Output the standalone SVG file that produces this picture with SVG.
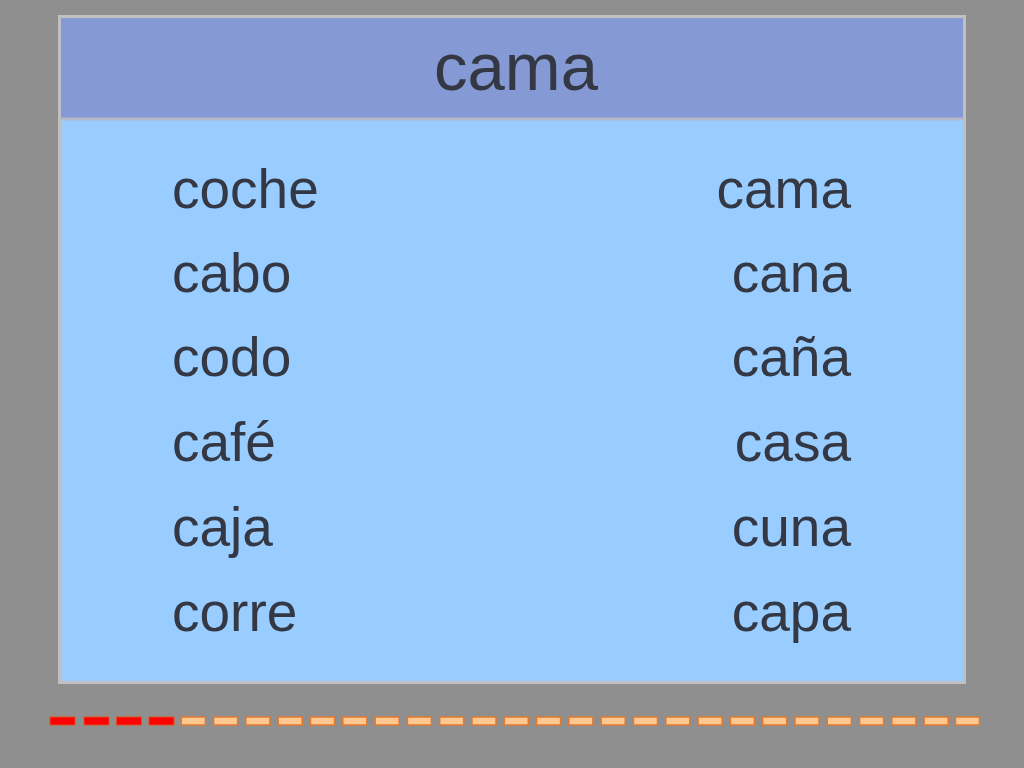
<svg xmlns="http://www.w3.org/2000/svg" width="1024" height="768" viewBox="0 0 1024 768">
<style>
text{font-family:"Liberation Sans",Arial,sans-serif;fill:#333844}
.w{font-size:55px}
.r{text-anchor:end}
.red{fill:#ff0000;stroke:#e05020;stroke-width:1}
.pe{fill:#ffc890;stroke:#e07a30;stroke-width:1.5}
</style>
<rect width="1024" height="768" fill="#8f8f8f"/>
<g id="panel">
<rect x="59.5" y="16.5" width="905" height="666" fill="#99ccff" stroke="#c0c0c0" stroke-width="3"/>
<rect x="61" y="18" width="902" height="100" fill="#8599d4"/>
<line x1="61" y1="119" x2="963" y2="119" stroke="#b8b8c8" stroke-width="3"/>
<text x="516" y="90" font-size="67" text-anchor="middle">cama</text>
</g>
<g id="words">
<text class="w" x="172" y="208">coche</text>
<text class="w" x="172" y="292">cabo</text>
<text class="w" x="172" y="376">codo</text>
<text class="w" x="172" y="461">café</text>
<text class="w" x="172" y="546">caja</text>
<text class="w" x="172" y="631">corre</text>
<text class="w r" x="851" y="208">cama</text>
<text class="w r" x="851" y="292">cana</text>
<text class="w r" x="851" y="376">caña</text>
<text class="w r" x="851" y="461">casa</text>
<text class="w r" x="851" y="546">cuna</text>
<text class="w r" x="851" y="631">capa</text>
</g>
<g id="dashes">
<rect class="red" x="50" y="717" width="25" height="8"/>
<rect class="red" x="84" y="717" width="25" height="8"/>
<rect class="red" x="116.5" y="717" width="25" height="8"/>
<rect class="red" x="149" y="717" width="25" height="8"/>
<rect class="pe" x="181.3" y="717" width="24" height="8"/>
<rect class="pe" x="213.6" y="717" width="24" height="8"/>
<rect class="pe" x="245.9" y="717" width="24" height="8"/>
<rect class="pe" x="278.2" y="717" width="24" height="8"/>
<rect class="pe" x="310.5" y="717" width="24" height="8"/>
<rect class="pe" x="342.8" y="717" width="24" height="8"/>
<rect class="pe" x="375.1" y="717" width="24" height="8"/>
<rect class="pe" x="407.4" y="717" width="24" height="8"/>
<rect class="pe" x="439.7" y="717" width="24" height="8"/>
<rect class="pe" x="472" y="717" width="24" height="8"/>
<rect class="pe" x="504.3" y="717" width="24" height="8"/>
<rect class="pe" x="536.6" y="717" width="24" height="8"/>
<rect class="pe" x="568.9" y="717" width="24" height="8"/>
<rect class="pe" x="601.2" y="717" width="24" height="8"/>
<rect class="pe" x="633.5" y="717" width="24" height="8"/>
<rect class="pe" x="665.8" y="717" width="24" height="8"/>
<rect class="pe" x="698.1" y="717" width="24" height="8"/>
<rect class="pe" x="730.4" y="717" width="24" height="8"/>
<rect class="pe" x="762.7" y="717" width="24" height="8"/>
<rect class="pe" x="795" y="717" width="24" height="8"/>
<rect class="pe" x="827.3" y="717" width="24" height="8"/>
<rect class="pe" x="859.6" y="717" width="24" height="8"/>
<rect class="pe" x="891.9" y="717" width="24" height="8"/>
<rect class="pe" x="924.2" y="717" width="24" height="8"/>
<rect class="pe" x="955.5" y="717" width="24" height="8"/>
</g>
</svg>
